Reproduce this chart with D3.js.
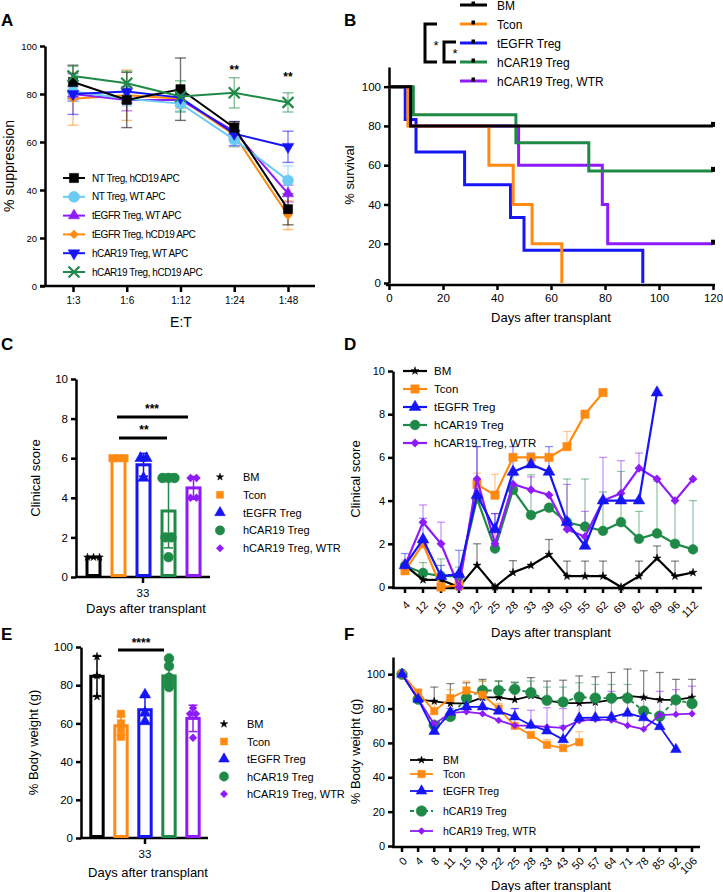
<!DOCTYPE html>
<html><head><meta charset="utf-8">
<script src="https://cdn.jsdelivr.net/npm/d3@7"></script>
<style>body{margin:0;background:#fff} svg text{font-family:"Liberation Sans",Arial,Helvetica,sans-serif;fill:#000}</style>
</head><body><svg id="c" width="723" height="892"></svg>
<script>
// ---------- DATA ----------
// Panel A: % suppression
const catsA = ["1:3","1:6","1:12","1:24","1:48"];
const seriesA = ["NT Treg, hCD19 APC","NT Treg, WT APC","tEGFR Treg, WT APC","tEGFR Treg, hCD19 APC","hCAR19 Treg, WT APC","hCAR19 Treg, hCD19 APC"];
const a_ntHCD19 = [85, 77.5, 82, 66, 32];
const a_ntHCD19_sd = [7, 11.5, 13, 2.5, 6.5];
const a_ntWT = [81, 78, 76, 61, 44];
const a_ntWT_sd = [4, 3, 3, 3, 6];
const a_tegfrWT = [80, 77.5, 77.5, 64.5, 38.5];
const a_tegfrWT_sd = [3, 4.5, 2.5, 3, 3.5];
const a_tegfrHCD19 = [78, 79.5, 78, 63, 29.5];
const a_tegfrHCD19_sd = [11, 10.5, 4, 5, 6];
const a_car19WT = [80, 81, 78.5, 63.5, 58];
const a_car19WT_sd = [8.5, 2, 2, 5, 6.5];
const a_car19HCD19 = [87.5, 84.5, 79, 80.5, 76.5];
const a_car19HCD19_sd = [4, 5, 6.5, 6.3, 4];
const sigA = ["", "", "", "**", "**"];
const sigA_level = [null, null, null, 90, 87];

// Panel B: survival (Kaplan-Meier steps)
const groups = ["BM","Tcon","tEGFR Treg","hCAR19 Treg","hCAR19 Treg, WTR"];
const b_bm_t = [0, 8, 120],            b_bm_s = [100, 80, 80];
const b_tcon_t = [0, 7, 37, 46, 53, 64], b_tcon_s = [100, 80, 60, 40, 20, 0];
const b_tegfr_t = [0, 6, 10, 28, 45, 50, 94], b_tegfr_s = [100, 83.3, 66.7, 50, 33.3, 16.7, 0];
const b_car_t = [0, 9, 47, 74, 120],   b_car_s = [100, 85.7, 71.4, 57.1, 57.1];
const b_wtr_t = [0, 8, 48, 79, 81, 120], b_wtr_s = [100, 80, 60, 40, 20, 20];
const b_xTicks = [0, 20, 40, 60, 80, 100, 120];
const b_yTicks = [0, 20, 40, 60, 80, 100];

// Panel C: clinical score day 33 (individual mice)
const c_bm = [1, 1, 1];
const c_tcon = [6, 6, 6];
const c_tegfr = [6, 6, 5];
const c_car = [5, 5, 5, 2, 2, 1];
const c_wtr = [5, 5, 4, 4];
const c_yTicks = [0, 2, 4, 6, 8, 10];

// Panel D: clinical score over time (mean, upper SD)
const catsD = ["4","12","15","19","22","25","28","33","39","50","55","62","69","82","89","96","112"];
const d_bm =    [1, 0.33, 0.33, 0, 1, 0, 0.67, 1, 1.5, 0.5, 0.5, 0.5, 0, 0.5, 1.33, 0.5, 0.67];
const d_bm_up = [null,null,null,null,2.0,null,1.22,null,2.2,1.2,1.2,1.2,null,1.2,1.9,1.2,null];
const d_tcon =    [0.75, 2, 0, 0.08, 4.75, 4.25, 6, 6, 6, 6.5, 8, 9];
const d_tcon_up = [1.25, 2.1, null, null, 5.27, 5.22, null, null, null, 7.2, null, null];
const d_tegfr =    [1.0, 2.2, 0.5, 0.6, 4.26, 2.67, 5.33, 5.67, 5.33, 3.0, 1.9, 4, 4, 4, 9];
const d_tegfr_up = [1.55, 3.18, 1.0, 1.7, 6.5, 3.4, 6.5, 6.2, 6.5, null, null, null, null, null, null];
const d_car =    [0.98, 0.65, 0.5, 0.5, 4.1, 1.78, 4.5, 3.33, 3.67, 3.0, 2.8, 2.6, 3.0, 2.23, 2.48, 2.0, 1.74];
const d_car_up = [null, 1.13, 1.3, 0.93, null, null, 5.15, 5.2, null, 5.0, 5.0, 4.4, 5.35, 3.5, 4.9, 4.0, 4.0];
const d_wtr =    [1.0, 3.0, 2.0, 0, 5.0, 2.0, 4.76, 4.5, 4.26, 2.67, 2.33, 4.0, 4.34, 5.5, 5.0, 4.0, 5.0];
const d_wtr_up = [null, 3.8, 3.0, null, 6.5, 3.4, null, 5.1, null, 4.75, 3.5, 6.0, 5.85, 6.2, null, null, null];
const d_yTicks = [0, 2, 4, 6, 8, 10];

// Panel E: % body weight day 33 (individual mice)
const e_bm = [95, 85, 74];
const e_tcon = [65, 60, 57, 53];
const e_tegfr = [75, 65.5, 61];
const e_car = [94, 90, 84, 82, 79, 80];
const e_wtr = [68, 65, 65, 52.5];
const e_yTicks = [0, 20, 40, 60, 80, 100];

// Panel F: % body weight over time (mean, upper SD)
const catsF = ["0","4","8","11","15","18","22","25","28","33","43","50","57","64","71","78","85","92","106"];
const f_bm =    [100, 85.3, 84.2, 83, 83, 86.5, 86.5, 85.1, 87.4, 84.8, 83.2, 83.2, 83.6, 85.1, 87.4, 86.5, 85.1, 85.1, 86.5];
const f_bm_up = [null, 91, 92.5, 94.5, 95, 97, 96, 95, 98, 96, 96.5, 99, 98.5, 101, 103, 102, 101, 97, 97];
const f_tcon =    [100, 89.3, 78.5, 86.1, 90.5, 88, 80, 69.9, 64.6, 58.9, 57, 60.4];
const f_tcon_up = [null, 91, 84, 91, 96, 96, 83, null, null, 62, null, 66.5];
const f_tegfr =    [100, 85.5, 66.7, 77.9, 81, 81, 78.5, 75.2, 70.3, 67, 61.9, 74.5, 74.7, 75, 77.3, 74.7, 69.5, 56.2];
const f_tegfr_up = [null, null, null, 80, 85, 85, null, 80, null, null, 70, null, null, null, null, null, null, null];
const f_car =    [100, 85.5, 70.3, 75.4, 86.1, 90.5, 90.5, 91.2, 89.3, 84.8, 83.8, 86.7, 86.1, 86.1, 86.1, 78.5, 75.6, 85.1, 82.9];
const f_car_up = [null, null, null, null, null, 96, 96, 95.5, 96, 92.5, 92.5, 95, 94, 94, 94, null, null, null, null];
const f_wtr =    [100, 85.5, 70.9, 77.5, 78.1, 77, 73.1, 70.1, 70.1, 69.3, 68.8, 72.9, 73.7, 73.3, 70.1, 68, 76.2, 76.6, 77];
const f_wtr_up = [null, null, null, null, null, null, null, 80, 79, 80.5, 80, 86, 88, 90, 88, 86, 90, 91, 93];
const f_yTicks = [0, 20, 40, 60, 80, 100];

// ---------- STYLE ----------
const COL = {black:"#000000", light:"#6ACBF4", purple:"#8F1BFA", orange:"#FF8A12", blue:"#1515F5", green:"#1F8A47"};
const groupCol = [COL.black, COL.orange, COL.blue, COL.green, COL.purple];
const groupSym = [d3.symbolStar, d3.symbolSquare, d3.symbolTriangle, d3.symbolCircle, d3.symbolDiamond2];

const svg = d3.select("#c");

function letter(t, x, y){ svg.append("text").attr("x",x).attr("y",y).attr("font-size",17).attr("font-weight","bold").text(t); }
function styleAxis(g, sw, fs){
  g.attr("font-family",null).attr("font-size",null);
  g.select(".domain").attr("stroke","#000").attr("stroke-width",sw);
  g.selectAll(".tick line").attr("stroke","#000").attr("stroke-width",sw);
  g.selectAll(".tick text").attr("fill","#000").attr("font-size",fs);
}
function hline(x1,x2,y,sw){ svg.append("line").attr("x1",x1).attr("x2",x2).attr("y1",y).attr("y2",y).attr("stroke","#000").attr("stroke-width",sw); }
function title(t,x,y,fs){ return svg.append("text").attr("x",x).attr("y",y).attr("text-anchor","middle").attr("font-size",fs).text(t); }
function ytitle(t,x,y,fs){ return svg.append("text").attr("transform",`translate(${x},${y}) rotate(-90)`).attr("text-anchor","middle").attr("font-size",fs).text(t); }
function sym(g, type, size, x, y, color, rot){
  const filled = !(type===d3.symbolTimes);
  return g.append("path").attr("d", d3.symbol().type(type).size(size)())
    .attr("transform",`translate(${x},${y})${rot?` rotate(${rot})`:""}`)
    .attr("fill", filled?color:"none").attr("stroke", color).attr("stroke-width", filled?(type===d3.symbolDiamond2?0:0.5):2.2);
}
// vertical error bar from yLow to yHigh, cap at top; lower cap optional
function errBar(g, x, yLow, yHigh, cap, color, op, sw, lowerCap){
  const e = g.append("g").attr("stroke",color).attr("stroke-opacity",op).attr("stroke-width",sw);
  e.append("line").attr("x1",x).attr("x2",x).attr("y1",yLow).attr("y2",yHigh);
  e.append("line").attr("x1",x-cap/2).attr("x2",x+cap/2).attr("y1",yHigh).attr("y2",yHigh);
  if (lowerCap) e.append("line").attr("x1",x-cap/2).attr("x2",x+cap/2).attr("y1",yLow).attr("y2",yLow);
}

// ================= PANEL A =================
{
  letter("A", 1, 26);
  const x = d3.scalePoint().domain(catsA).range([73, 288]);
  const y = d3.scaleLinear().domain([0,100]).range([286, 46]);
  const gx = svg.append("g").attr("transform","translate(0,286)").call(d3.axisBottom(x).tickSize(6).tickPadding(5).tickSizeOuter(0));
  styleAxis(gx, 2.5, 10); gx.select(".domain").remove();
  hline(40, 315, 286, 2.5);
  const gy = svg.append("g").attr("transform","translate(45,0)").call(d3.axisLeft(y).tickValues([0,20,40,60,80,100]).tickSize(5).tickPadding(3).tickSizeOuter(0));
  styleAxis(gy, 2.5, 9.5);
  title("E:T", 181, 327, 14);
  ytitle("% suppression", 14, 166, 14);

  const series = [
    {v:a_tegfrHCD19, sd:a_tegfrHCD19_sd, c:COL.orange, s:d3.symbolDiamond2, size:55, name:seriesA[3]},
    {v:a_tegfrWT, sd:a_tegfrWT_sd, c:COL.purple, s:d3.symbolTriangle, size:55, name:seriesA[2]},
    {v:a_ntWT, sd:a_ntWT_sd, c:COL.light, s:d3.symbolCircle, size:95, name:seriesA[1]},
    {v:a_car19WT, sd:a_car19WT_sd, c:COL.blue, s:d3.symbolTriangle, size:60, rot:180, name:seriesA[4]},
    {v:a_ntHCD19, sd:a_ntHCD19_sd, c:COL.black, s:d3.symbolSquare, size:85, name:seriesA[0]},
    {v:a_car19HCD19, sd:a_car19HCD19_sd, c:COL.green, s:d3.symbolTimes, size:80, name:seriesA[5]}
  ];
  const g = svg.append("g");
  series.forEach(se=>{
    se.v.forEach((v,i)=> errBar(g, x(catsA[i]), y(v-se.sd[i]), y(v+se.sd[i]), 11, se.c, 0.55, 1.4, true));
  });
  series.forEach(se=>{
    g.append("path").attr("d", d3.line().x((d,i)=>x(catsA[i])).y(d=>y(d))(se.v)).attr("fill","none").attr("stroke",se.c).attr("stroke-width",2);
    se.v.forEach((v,i)=> sym(g, se.s, se.size, x(catsA[i]), y(v), se.c, se.rot));
  });
  sigA.forEach((s,i)=>{ if(s) svg.append("text").attr("x",x(catsA[i])).attr("y",y(sigA_level[i])+4).attr("text-anchor","middle").attr("font-size",12).attr("font-weight","bold").text(s); });
  // legend
  const order = [4,2,1,0,3,5];
  const lg = svg.append("g");
  order.forEach((k,j)=>{
    const se = series[k], yy = 178 + j*18.8;
    lg.append("line").attr("x1",63).attr("x2",85).attr("y1",yy).attr("y2",yy).attr("stroke",se.c).attr("stroke-width",2);
    sym(lg, se.s, se.size, 74, yy, se.c, se.rot);
    lg.append("text").attr("x",92).attr("y",yy+3.5).attr("font-size",10).attr("letter-spacing",-0.45).text(se.name);
  });
}

// ================= PANEL B =================
{
  letter("B", 344, 26);
  const x = d3.scaleLinear().domain([0,120]).range([389, 713]);
  const y = d3.scaleLinear().domain([0,110]).range([283, 67]);
  const gx = svg.append("g").attr("transform","translate(0,285)").call(d3.axisBottom(x).tickValues(b_xTicks).tickSize(5).tickPadding(4).tickSizeOuter(0));
  styleAxis(gx, 2.5, 11.5); gx.select(".domain").remove();
  hline(386, 715, 285, 2.5);
  const gy = svg.append("g").attr("transform","translate(389,0)").call(d3.axisLeft(y).tickValues(b_yTicks).tickSize(5).tickPadding(3).tickSizeOuter(0));
  styleAxis(gy, 2.5, 11.5);
  title("Days after transplant", 551, 322, 13);
  ytitle("% survival", 354, 175, 13);
  const sets = [
    {t:b_wtr_t, s:b_wtr_s, c:COL.purple},
    {t:b_car_t, s:b_car_s, c:COL.green},
    {t:b_tegfr_t, s:b_tegfr_s, c:COL.blue},
    {t:b_tcon_t, s:b_tcon_s, c:COL.orange},
    {t:b_bm_t, s:b_bm_s, c:COL.black}
  ];
  const line = d3.line().curve(d3.curveStepAfter).x(d=>x(d[0])).y(d=>y(d[1]));
  sets.forEach(st=>{
    const pts = st.t.map((t,i)=>[t, st.s[i]]);
    svg.append("path").attr("d", line(pts)).attr("fill","none").attr("stroke",st.c).attr("stroke-width",3);
    const last = pts[pts.length-1];
    if (last[0]===120) svg.append("rect").attr("x",x(120)-2).attr("y",y(last[1])-4).attr("width",4).attr("height",5).attr("fill","#000");
  });
  // legend
  groups.forEach((gname,j)=>{
    const yy = 5 + j*19;
    svg.append("line").attr("x1",460).attr("x2",487).attr("y1",yy).attr("y2",yy).attr("stroke",groupCol[j]).attr("stroke-width",3);
    svg.append("rect").attr("x",471.5).attr("y",yy-3.5).attr("width",3.5).attr("height",4).attr("fill","#000");
    svg.append("text").attr("x",497).attr("y",yy+4.5).attr("font-size",12).text(gname);
  });
  svg.append("path").attr("d","M437,24H425V62H437").attr("fill","none").attr("stroke","#000").attr("stroke-width",3);
  svg.append("path").attr("d","M456,42H444V62H456").attr("fill","none").attr("stroke","#000").attr("stroke-width",3);
  svg.append("text").attr("x",436).attr("y",50).attr("text-anchor","middle").attr("font-size",13).text("*");
  svg.append("text").attr("x",455).attr("y",58).attr("text-anchor","middle").attr("font-size",13).text("*");
}

// ========== helper for bar+scatter panels (C, E) ==========
function barPanel(opts){
  const x = d3.scaleBand().domain(groups).range(opts.xr).paddingInner(0.36).paddingOuter(0.18);
  const y = d3.scaleLinear().domain(opts.yd).range(opts.yr);
  const gy = svg.append("g").attr("transform",`translate(${opts.ax},0)`).call(d3.axisLeft(y).tickValues(opts.ticks).tickSize(5).tickPadding(3).tickSizeOuter(0));
  styleAxis(gy, 2.5, 11.5);
  hline(opts.ax-1, opts.axEnd, opts.yr[0], 2.5);
  svg.append("line").attr("x1",opts.tickX).attr("x2",opts.tickX).attr("y1",opts.yr[0]).attr("y2",opts.yr[0]+6).attr("stroke","#000").attr("stroke-width",2.5);
  title("33", opts.tickX, opts.yr[0]+20, 11.5);
  title("Days after transplant", opts.tickX+3, opts.titleY, 13);
  ytitle(opts.ytitle, opts.ytx, (opts.yr[0]+opts.yr[1])/2, 13);
  const g = svg.append("g");
  opts.data.forEach((pts,i)=>{
    const cx = x(groups[i]) + x.bandwidth()/2;
    const mean = d3.mean(pts), sd = d3.deviation(pts)||0;
    g.append("rect").attr("x",x(groups[i])+1.5).attr("y",y(mean)).attr("width",x.bandwidth()-3).attr("height",y(0)-y(mean)-1.5)
      .attr("fill","#fff").attr("stroke",groupCol[i]).attr("stroke-width",3);
    if (sd>0) errBar(g, cx, y(mean-sd), y(mean+sd), 9, groupCol[i], 1, 1.5, true);
    // spread equal values horizontally
    const counts = d3.rollup(pts, v=>v.length, d=>d);
    const seen = new Map();
    pts.forEach(v=>{
      const n = counts.get(v), k = seen.get(v)||0; seen.set(v,k+1);
      const off = (k-(n-1)/2)*Math.min(6, 12/(Math.max(n-1,1)));
      sym(g, groupSym[i], opts.symSize[i], cx+off, y(v), groupCol[i]);
    });
  });
  // legend
  groups.forEach((gname,j)=>{
    const yy = opts.legY + j*opts.legStep;
    sym(svg, groupSym[j], opts.symSize[j]*0.9, opts.legX, yy, groupCol[j]);
    svg.append("text").attr("x",opts.legX+23).attr("y",yy+4).attr("font-size",11).text(gname);
  });
  return {x,y};
}

// ================= PANEL C =================
{
  letter("C", 1, 350);
  barPanel({xr:[81,206], yd:[0,10], yr:[577,379], ax:76, axEnd:210, tickX:143, ticks:c_yTicks, titleY:613,
    ytitle:"Clinical score", ytx:40, data:[c_bm,c_tcon,c_tegfr,c_car,c_wtr], symSize:[18,55,55,75,45],
    legX:220, legY:477, legStep:17.8});
  hline(117, 188, 417, 3); hline(119, 167, 438, 3);
  svg.append("text").attr("x",152).attr("y",413).attr("text-anchor","middle").attr("font-size",12).attr("font-weight","bold").text("***");
  svg.append("text").attr("x",144).attr("y",434).attr("text-anchor","middle").attr("font-size",12).attr("font-weight","bold").text("**");
}

// ================= PANEL E =================
{
  letter("E", 1, 640);
  barPanel({xr:[85,205], yd:[0,100], yr:[838,647], ax:81, axEnd:208, tickX:145, ticks:e_yTicks, titleY:877,
    ytitle:"% Body weight (g)", ytx:38, data:[e_bm,e_tcon,e_tegfr,e_car,e_wtr], symSize:[20,55,55,75,45],
    legX:224, legY:724, legStep:17.5});
  hline(118, 164, 650, 3);
  svg.append("text").attr("x",141).attr("y",647).attr("text-anchor","middle").attr("font-size",12).attr("font-weight","bold").text("****");
}

// ========== helper for time-course panels (D, F) ==========
function timePanel(opts){
  const x = d3.scalePoint().domain(opts.cats).range(opts.xr);
  const y = d3.scaleLinear().domain(opts.yd).range(opts.yr);
  const gy = svg.append("g").attr("transform",`translate(${opts.ax},0)`).call(d3.axisLeft(y).tickValues(opts.ticks).tickSize(5).tickPadding(3).tickSizeOuter(0));
  styleAxis(gy, 2.5, 11);
  const base = y(0)+1;
  hline(opts.ax-1, opts.axEnd, base, 2.5);
  opts.cats.forEach(c=>{
    svg.append("line").attr("x1",x(c)).attr("x2",x(c)).attr("y1",base).attr("y2",base+5).attr("stroke","#000").attr("stroke-width",2.5);
    svg.append("text").attr("transform",`translate(${x(c)+3},${base+opts.labOff}) rotate(-45)`).attr("text-anchor","end").attr("dy","0.35em").attr("font-size",11).text(c);
  });
  title("Days after transplant", 551, opts.titleY, 13);
  ytitle(opts.ytitle, opts.ytx, (opts.yr[0]+opts.yr[1])/2, 13);
  const g = svg.append("g");
  opts.series.forEach(se=>{
    se.up.forEach((u,i)=>{ if(u!==null && u!==undefined && i<se.v.length) errBar(g, x(opts.cats[i]), y(se.v[i]), y(u), 8, se.c, 0.5, 1.2, false); });
  });
  opts.series.forEach(se=>{
    g.append("path").attr("d", d3.line().x((d,i)=>x(opts.cats[i])).y(d=>y(d))(se.v)).attr("fill","none").attr("stroke",se.c).attr("stroke-width",opts.lw).attr("stroke-dasharray",se.dash||null);
    se.v.forEach((v,i)=> sym(g, se.s, se.size, x(opts.cats[i]), y(v), se.c));
  });
  // legend
  opts.legendOrder.forEach((k,j)=>{
    const se = opts.series[k], yy = opts.legY[j];
    svg.append("line").attr("x1",opts.legX[0]).attr("x2",opts.legX[1]).attr("y1",yy).attr("y2",yy).attr("stroke",se.c).attr("stroke-width",opts.lw).attr("stroke-dasharray",se.dash||null);
    sym(svg, se.s, se.size, (opts.legX[0]+opts.legX[1])/2, yy, se.c);
    svg.append("text").attr("x",opts.legX[1]+opts.legGap).attr("y",yy+4).attr("font-size",opts.legFs).text(se.name);
  });
}

// ================= PANEL D =================
{
  letter("D", 344, 350);
  timePanel({cats:catsD, xr:[405,693], yd:[0,10], yr:[587,371], ax:393, axEnd:702, ticks:d_yTicks, titleY:637, labOff:15,
    ytitle:"Clinical score", ytx:360, lw:2.2,
    series:[
      {v:d_car, up:d_car_up, c:COL.green, s:d3.symbolCircle, size:75, name:groups[3]},
      {v:d_bm, up:d_bm_up, c:COL.black, s:d3.symbolStar, size:20, name:groups[0]},
      {v:d_tcon, up:d_tcon_up, c:COL.orange, s:d3.symbolSquare, size:70, name:groups[1]},
      {v:d_wtr, up:d_wtr_up, c:COL.purple, s:d3.symbolDiamond2, size:50, name:groups[4]},
      {v:d_tegfr, up:d_tegfr_up, c:COL.blue, s:d3.symbolTriangle, size:60, name:groups[2]}
    ],
    legendOrder:[1,2,4,0,3], legX:[403,427], legGap:7, legFs:11.5, legY:[371,389,407,425,443]});
}

// ================= PANEL F =================
{
  letter("F", 344, 640);
  timePanel({cats:catsF, xr:[402,692], yd:[0,110], yr:[846,657], ax:393, axEnd:700, ticks:f_yTicks, titleY:890, labOff:12,
    ytitle:"% Body weight (g)", ytx:360, lw:1.8,
    series:[
      {v:f_bm, up:f_bm_up, c:COL.black, s:d3.symbolStar, size:18, name:groups[0]},
      {v:f_car, up:f_car_up, c:COL.green, s:d3.symbolCircle, size:90, dash:"4,3", name:groups[3]},
      {v:f_tcon, up:f_tcon_up, c:COL.orange, s:d3.symbolSquare, size:55, name:groups[1]},
      {v:f_wtr, up:f_wtr_up, c:COL.purple, s:d3.symbolDiamond2, size:35, name:groups[4]},
      {v:f_tegfr, up:f_tegfr_up, c:COL.blue, s:d3.symbolTriangle, size:50, name:groups[2]}
    ],
    legendOrder:[0,2,4,1,3], legX:[410,433], legGap:10, legFs:10.5, legY:[760,774,791,811,831]});
}
</script></body></html>
